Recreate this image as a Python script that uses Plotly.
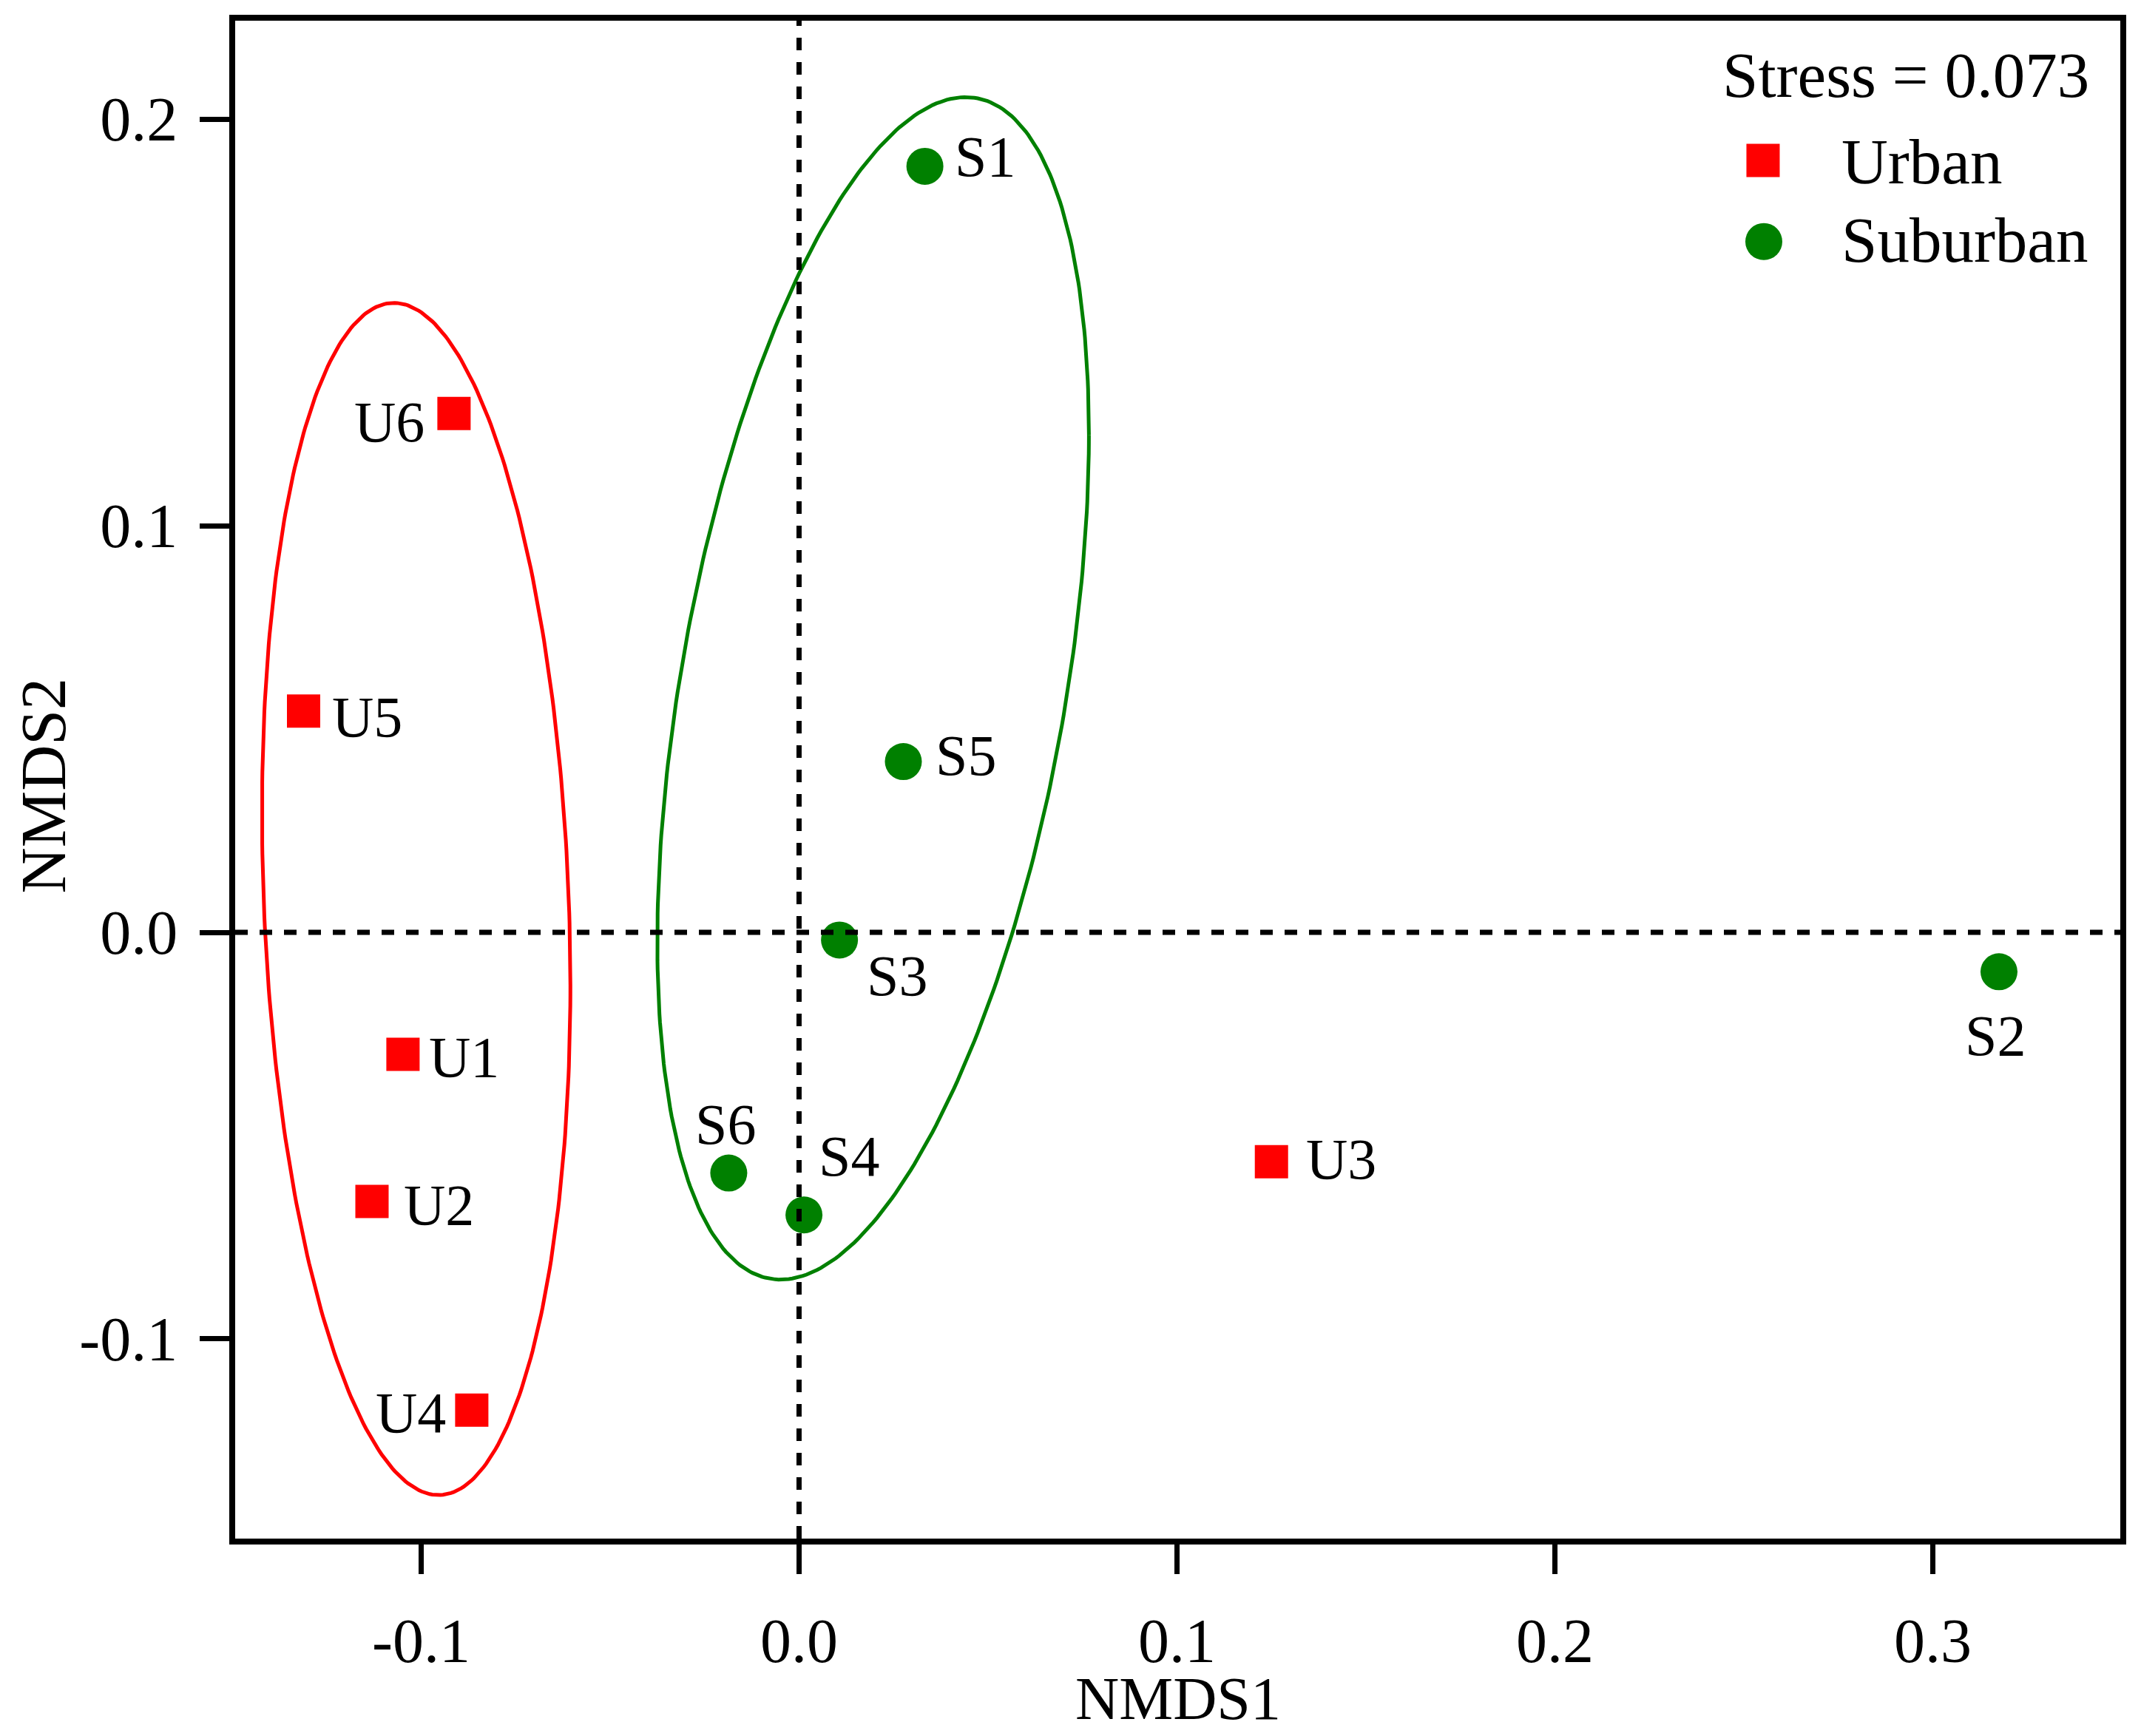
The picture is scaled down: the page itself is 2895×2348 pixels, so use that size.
import numpy as np
import plotly.graph_objects as go

# NMDS site scores
urban_names = ["U1", "U2", "U3", "U4", "U5", "U6"]
urban_x = [-0.1048, -0.1130, 0.1250, -0.0866, -0.1311, -0.0913]
urban_y = [-0.0300, -0.0662, -0.0564, -0.1175, 0.0544, 0.1276]

suburban_names = ["S1", "S2", "S3", "S4", "S5", "S6"]
suburban_x = [0.0333, 0.3175, 0.0107, 0.0013, 0.0276, -0.0186]
suburban_y = [0.1884, -0.0097, -0.0019, -0.0695, 0.0420, -0.0592]

# group ellipses: centre, half extents along x / y, and x-y covariance term
ellipse_groups = ["Urban", "Suburban"]
ellipse_cx = [-0.1013, 0.0196]
ellipse_cy = [0.0082, 0.0600]
ellipse_hx = [0.0408, 0.0571]
ellipse_hy = [0.1466, 0.1454]
ellipse_cxy = [-0.000865, 0.00356]

stress_text = "Stress = 0.073"

xtick_vals = [-0.1, 0.0, 0.1, 0.2, 0.3]
xtick_text = ["-0.1", "0.0", "0.1", "0.2", "0.3"]
ytick_vals = [-0.1, 0.0, 0.1, 0.2]
ytick_text = ["-0.1", "0.0", "0.1", "0.2"]

RED = "#FF0000"
GREEN = "#008000"
FONT = "Liberation Serif"

# label placement per point: (xanchor, xshift, yshift) in px
urban_lab = {
    "U1": ("left", 33, -3), "U2": ("left", 41, -4), "U3": ("left", 45, 4),
    "U4": ("right", -33, -3), "U5": ("left", 36, -8), "U6": ("right", -38, -11),
}
suburban_lab = {
    "S1": ("left", 38, 13), "S2": ("center", -5, -86), "S3": ("center", 78, -48),
    "S4": ("center", 61, 80), "S5": ("left", 42, 9), "S6": ("center", -4, 66),
}


def ellipse_path(cx, cy, hx, hy, cxy, n=361):
    cov = np.array([[hx**2, cxy], [cxy, hy**2]])
    L = np.linalg.cholesky(cov)
    t = np.linspace(0, 2*np.pi, n)
    pts = L @ np.vstack([np.cos(t), np.sin(t)])
    return cx + pts[0], cy + pts[1]


fig = go.Figure()

# Ellipses
for i, col in enumerate([RED, GREEN]):
    ex, ey = ellipse_path(ellipse_cx[i], ellipse_cy[i], ellipse_hx[i],
                          ellipse_hy[i], ellipse_cxy[i])
    fig.add_trace(
        go.Scatter(
            x=ex, y=ey, mode="lines", name=ellipse_groups[i],
            line=dict(color=col, width=5), showlegend=False, hoverinfo="skip",
        )
    )

# Points
fig.add_trace(
    go.Scatter(
        x=urban_x, y=urban_y, mode="markers", name="Urban", text=urban_names,
        marker=dict(symbol="square", color=RED, size=45, line_width=0),
        showlegend=False,
    )
)
fig.add_trace(
    go.Scatter(
        x=suburban_x, y=suburban_y, mode="markers", name="Suburban", text=suburban_names,
        marker=dict(symbol="circle", color=GREEN, size=50, line_width=0),
        showlegend=False,
    )
)

# Point labels
annotations = []
for names, xs, ys, lab in [(urban_names, urban_x, urban_y, urban_lab),
                           (suburban_names, suburban_x, suburban_y, suburban_lab)]:
    for nm, xv, yv in zip(names, xs, ys):
        anchor, dx, dy = lab[nm]
        annotations.append(dict(
            x=xv, y=yv, xref="x", yref="y", text=nm, showarrow=False,
            xanchor=anchor, yanchor="middle", xshift=dx, yshift=dy,
            font=dict(family=FONT, size=78, color="black"),
        ))

# Axis titles
annotations.append(dict(
    x=0.5, y=-0.1056, xref="paper", yref="paper", text="NMDS1", showarrow=False,
    xanchor="center", yanchor="middle",
    font=dict(family=FONT, size=82, color="black"),
))
annotations.append(dict(
    x=-0.1018, y=0.4959, xref="paper", yref="paper", text="NMDS2", showarrow=False,
    xanchor="center", yanchor="middle", textangle=-90,
    font=dict(family=FONT, size=86, color="black"),
))

# Legend (drawn by hand so the symbols can be large)
annotations.append(dict(
    x=0.9843, y=0.9640, xref="paper", yref="paper", text=stress_text,
    showarrow=False, xanchor="right", yanchor="middle",
    font=dict(family=FONT, size=87, color="black"),
))
for txt, yp in [("Urban", 0.9071), ("Suburban", 0.8555)]:
    annotations.append(dict(
        x=0.8512, y=yp, xref="paper", yref="paper", text=txt,
        showarrow=False, xanchor="left", yanchor="middle",
        font=dict(family=FONT, size=87, color="black"),
    ))

dash = "17px,16px"
shapes = [
    dict(type="line", xref="paper", x0=0, x1=1, yref="y", y0=0, y1=0,
         line=dict(color="black", width=7, dash=dash)),
    dict(type="line", xref="x", x0=0, x1=0, yref="paper", y0=0, y1=1,
         line=dict(color="black", width=7, dash=dash)),
    dict(type="rect", xref="paper", yref="paper", xsizemode="pixel", ysizemode="pixel",
         xanchor=0.8105, yanchor=0.9080, x0=-22.5, x1=22.5, y0=-22.5, y1=22.5,
         fillcolor=RED, line_width=0),
    dict(type="circle", xref="paper", yref="paper", xsizemode="pixel", ysizemode="pixel",
         xanchor=0.8109, yanchor=0.8545, x0=-25, x1=25, y0=-25, y1=25,
         fillcolor=GREEN, line_width=0),
]

axis_style = dict(
    showgrid=False, zeroline=False, showline=True, linewidth=8, linecolor="black",
    mirror=True, ticks="outside", ticklen=40, tickwidth=7, tickcolor="black",
    tickfont=dict(family=FONT, size=84, color="black"),
)

fig.update_xaxes(
    range=[-0.1492, 0.3496], tickvals=xtick_vals, ticktext=xtick_text,
    ticklabelstandoff=18, **axis_style,
)
fig.update_yaxes(
    range=[-0.1491, 0.2242], tickvals=ytick_vals, ticktext=ytick_text,
    ticklabelstandoff=13, **axis_style,
)

fig.update_layout(
    width=2879,
    height=2340,
    margin=dict(l=310, r=15, t=18, b=267),
    plot_bgcolor="white",
    paper_bgcolor="white",
    font=dict(family=FONT, color="black"),
    showlegend=False,
    annotations=annotations,
    shapes=shapes,
)

fig.write_html("out.html")
